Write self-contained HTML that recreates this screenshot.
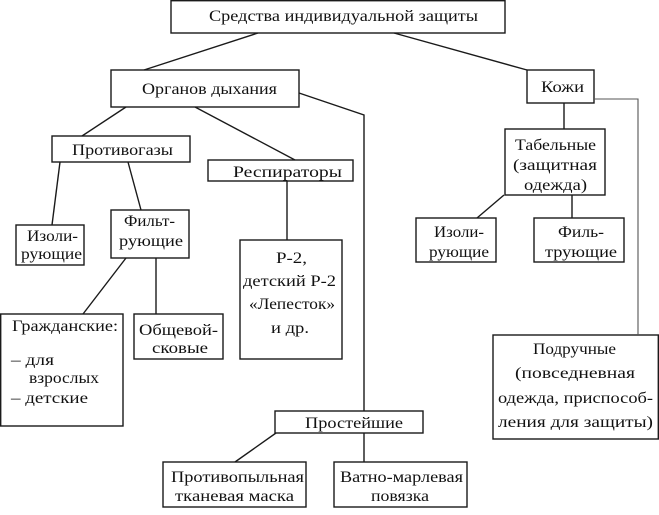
<!DOCTYPE html>
<html><head><meta charset="utf-8"><style>
html,body{margin:0;padding:0;background:#fff;}
svg{display:block;}
text{font-family:"Liberation Serif","Times New Roman",serif;font-size:16px;fill:#111;}
</style></head><body>
<svg width="659" height="515" viewBox="0 0 659 515" xmlns="http://www.w3.org/2000/svg">
<g fill="#fff" stroke="#1a1a1a" stroke-width="1.4">
<rect x="171" y="0.7" width="334" height="32.3"/>
<rect x="111" y="70" width="188" height="37"/>
<rect x="527" y="70" width="67" height="33"/>
<rect x="52" y="136" width="138" height="26"/>
<rect x="208" y="160" width="145" height="21"/>
<rect x="16" y="225" width="68" height="40"/>
<rect x="111" y="210" width="78" height="48"/>
<rect x="240" y="240" width="102" height="119"/>
<rect x="0.7" y="314" width="122.3" height="112"/>
<rect x="134" y="314" width="89" height="45"/>
<rect x="275" y="411" width="148" height="22"/>
<rect x="163" y="462" width="143" height="45"/>
<rect x="334" y="462" width="133" height="45"/>
<rect x="493" y="335" width="165.3" height="104"/>
<rect x="505" y="129" width="100" height="66"/>
<rect x="416" y="218" width="80" height="44"/>
<rect x="534" y="218" width="90" height="44"/>
</g>
<g fill="none" stroke="#1a1a1a" stroke-width="1.4">
<line x1="258" y1="33" x2="144" y2="70"/>
<line x1="394" y1="33" x2="527" y2="70"/>
<polyline points="594,99 638,99 638,335" stroke="#555" stroke-width="1.1"/>
<polyline points="299,93 364,115 364,411"/>
<line x1="126" y1="107" x2="82" y2="136"/>
<line x1="195" y1="107" x2="295" y2="160"/>
<line x1="287" y1="181" x2="287" y2="240"/>
<line x1="60" y1="162" x2="52" y2="225"/>
<line x1="128" y1="162" x2="141" y2="210"/>
<line x1="126" y1="258" x2="83" y2="314"/>
<line x1="156" y1="258" x2="156" y2="314"/>
<line x1="276" y1="433" x2="235" y2="462"/>
<line x1="364" y1="433" x2="364" y2="462"/>
<line x1="564" y1="103" x2="564" y2="129"/>
<line x1="504" y1="195" x2="477" y2="218"/>
<line x1="572" y1="195" x2="572" y2="218"/>
</g>
<text x="209" y="21" textLength="269" lengthAdjust="spacingAndGlyphs">Средства индивидуальной защиты</text>
<text x="142" y="94" textLength="135" lengthAdjust="spacingAndGlyphs">Органов дыхания</text>
<text x="541" y="92" textLength="43" lengthAdjust="spacingAndGlyphs">Кожи</text>
<text x="72" y="155" textLength="101" lengthAdjust="spacingAndGlyphs">Противогазы</text>
<text x="233" y="177" textLength="109" lengthAdjust="spacingAndGlyphs">Респираторы</text>
<text x="27" y="241" textLength="51" lengthAdjust="spacingAndGlyphs">Изоли-</text>
<text x="21" y="259" textLength="61" lengthAdjust="spacingAndGlyphs">рующие</text>
<text x="124" y="226" textLength="51" lengthAdjust="spacingAndGlyphs">Фильт-</text>
<text x="119" y="246" textLength="64" lengthAdjust="spacingAndGlyphs">рующие</text>
<text x="276" y="263" textLength="31" lengthAdjust="spacingAndGlyphs">Р-2,</text>
<text x="243" y="286" textLength="93" lengthAdjust="spacingAndGlyphs">детский Р-2</text>
<text x="249" y="309" textLength="86" lengthAdjust="spacingAndGlyphs">«Лепесток»</text>
<text x="271" y="333" textLength="38" lengthAdjust="spacingAndGlyphs">и др.</text>
<text x="12" y="331" textLength="106" lengthAdjust="spacingAndGlyphs">Гражданские:</text>
<text x="11" y="365" textLength="43" lengthAdjust="spacingAndGlyphs">– для</text>
<text x="29" y="383" textLength="70" lengthAdjust="spacingAndGlyphs">взрослых</text>
<text x="11" y="403" textLength="77" lengthAdjust="spacingAndGlyphs">– детские</text>
<text x="139" y="335" textLength="79" lengthAdjust="spacingAndGlyphs">Общевой-</text>
<text x="152" y="353" textLength="56" lengthAdjust="spacingAndGlyphs">сковые</text>
<text x="305" y="428" textLength="98" lengthAdjust="spacingAndGlyphs">Простейшие</text>
<text x="171" y="482" textLength="133" lengthAdjust="spacingAndGlyphs">Противопыльная</text>
<text x="175" y="501" textLength="119" lengthAdjust="spacingAndGlyphs">тканевая маска</text>
<text x="340" y="482" textLength="123" lengthAdjust="spacingAndGlyphs">Ватно-марлевая</text>
<text x="371" y="501" textLength="58" lengthAdjust="spacingAndGlyphs">повязка</text>
<text x="515" y="150" textLength="81" lengthAdjust="spacingAndGlyphs">Табельные</text>
<text x="513" y="170" textLength="84" lengthAdjust="spacingAndGlyphs">(защитная</text>
<text x="524" y="190" textLength="63" lengthAdjust="spacingAndGlyphs">одежда)</text>
<text x="434" y="237" textLength="50" lengthAdjust="spacingAndGlyphs">Изоли-</text>
<text x="429" y="257" textLength="60" lengthAdjust="spacingAndGlyphs">рующие</text>
<text x="558" y="237" textLength="46" lengthAdjust="spacingAndGlyphs">Филь-</text>
<text x="545" y="257" textLength="72" lengthAdjust="spacingAndGlyphs">трующие</text>
<text x="533" y="354" textLength="83" lengthAdjust="spacingAndGlyphs">Подручные</text>
<text x="515" y="378" textLength="120" lengthAdjust="spacingAndGlyphs">(повседневная</text>
<text x="498" y="403" textLength="155" lengthAdjust="spacingAndGlyphs">одежда, приспособ-</text>
<text x="498" y="427" textLength="155" lengthAdjust="spacingAndGlyphs">ления для защиты)</text>
</svg>
</body></html>
